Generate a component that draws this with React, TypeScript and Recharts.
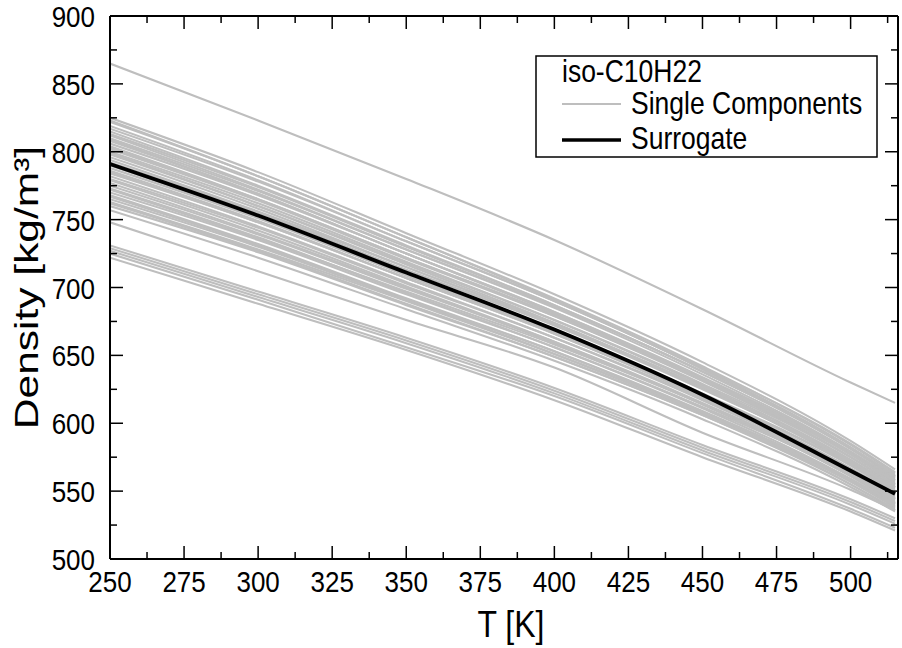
import React from 'react';
import { LineChart, Line, XAxis, YAxis, Legend, Label } from 'recharts';

const temperatures = [250, 300, 350, 400, 450, 500, 515];

const surrogate = [791, 753, 711, 669, 621, 565, 548];

const upperComponent = [865, 823, 780, 735, 684, 630, 615];

const bandComponents: number[][] = [
  [825, 785, 740, 695, 645, 587, 566],
  [823, 782, 737, 691, 640, 582, 560],
  [822, 782, 737, 692, 642, 584, 563],
  [819, 779, 734, 690, 640, 582, 561],
  [817, 778, 734, 690, 641, 585, 564],
  [815, 775, 731, 687, 638, 581, 560],
  [813, 774, 730, 687, 638, 582, 561],
  [812, 772, 728, 685, 636, 579, 558],
  [810, 771, 728, 686, 638, 582, 562],
  [809, 769, 725, 681, 632, 575, 554],
  [808, 769, 725, 682, 633, 577, 556],
  [806, 768, 725, 682, 634, 579, 559],
  [804, 765, 722, 679, 631, 575, 555],
  [803, 765, 722, 680, 633, 578, 558],
  [802, 764, 721, 679, 632, 577, 557],
  [800, 762, 719, 676, 628, 573, 553],
  [799, 760, 717, 674, 626, 570, 550],
  [798, 760, 718, 676, 629, 575, 555],
  [796, 758, 715, 673, 626, 571, 551],
  [794, 756, 715, 673, 627, 573, 553],
  [792, 755, 713, 672, 625, 572, 552],
  [790, 752, 709, 667, 620, 565, 545],
  [788, 751, 709, 668, 622, 569, 549],
  [786, 749, 707, 666, 619, 566, 546],
  [785, 748, 707, 666, 620, 567, 548],
  [784, 748, 707, 667, 621, 569, 550],
  [782, 745, 704, 663, 617, 564, 544],
  [780, 744, 703, 663, 618, 566, 547],
  [779, 742, 701, 660, 614, 561, 541],
  [777, 740, 700, 659, 614, 561, 542],
  [775, 739, 699, 660, 615, 564, 545],
  [773, 737, 696, 656, 611, 559, 540],
  [772, 736, 697, 658, 614, 563, 544],
  [770, 735, 695, 656, 612, 562, 543],
  [768, 732, 692, 653, 608, 557, 538],
  [767, 731, 691, 651, 607, 555, 536],
  [765, 730, 691, 653, 609, 559, 541],
  [763, 728, 690, 651, 608, 558, 540],
  [762, 727, 688, 649, 606, 555, 537],
  [760, 726, 687, 649, 606, 557, 539],
  [757, 722, 684, 646, 603, 553, 535],
];

const lowerSingle = [748, 712, 676, 641, 593, 551, 536];

const lowerGroup: number[][] = [
  [731, 697, 663, 626, 584, 544, 530],
  [729, 695, 661, 624, 582, 542, 528],
  [727, 693, 659, 622, 580, 540, 526],
  [725, 691, 656, 620, 578, 537, 523],
  [722, 688, 654, 617, 575, 535, 521],
];

const xTicks = [250, 262.5, 275, 287.5, 300, 312.5, 325, 337.5, 350, 362.5, 375, 387.5, 400, 412.5, 425, 437.5, 450, 462.5, 475, 487.5, 500, 512.5];
const xLabels = [250, 275, 300, 325, 350, 375, 400, 425, 450, 475, 500];
const yTicks = [500, 525, 550, 575, 600, 625, 650, 675, 700, 725, 750, 775, 800, 825, 850, 875, 900];
const yLabels = [500, 550, 600, 650, 700, 750, 800, 850, 900];

const components: number[][] = [upperComponent, ...bandComponents, lowerSingle, ...lowerGroup];

const data = temperatures.map((T, i) => {
  const row: Record<string, number> = { T, surrogate: surrogate[i] };
  components.forEach((arr, k) => {
    row['c' + k] = arr[i];
  });
  return row;
});

const FONT = 'Arial, "Liberation Sans", Helvetica, sans-serif';
const GRAY = '#bebebe';
const STRETCH = 1.15;

function StretchText(props: { x: number; y: number; size: number; anchor?: string; children: React.ReactNode }) {
  const { x, y, size, anchor = 'start', children } = props;
  return (
    <text
      transform={`translate(${x}, ${y}) scale(1, ${STRETCH})`}
      x={0}
      y={0}
      textAnchor={anchor}
      fontSize={size}
      fontFamily={FONT}
      fill="#000"
    >
      {children}
    </text>
  );
}

function BottomTick(props: any) {
  const { x, y, payload } = props;
  const v = payload.value;
  const major = xLabels.includes(v);
  return (
    <g>
      <line x1={x} x2={x} y1={y} y2={y - (major ? 13 : 7)} stroke="#000" strokeWidth={1.5} />
      {major && (
        <StretchText x={x} y={y + 33} size={26} anchor="middle">
          {v}
        </StretchText>
      )}
    </g>
  );
}

function TopTick(props: any) {
  const { x, y, payload } = props;
  const major = xLabels.includes(payload.value);
  return <line x1={x} x2={x} y1={y} y2={y + (major ? 13 : 7)} stroke="#000" strokeWidth={1.5} />;
}

function LeftTick(props: any) {
  const { x, y, payload } = props;
  const v = payload.value;
  const major = yLabels.includes(v);
  return (
    <g>
      <line x1={x} x2={x + (major ? 13 : 7)} y1={y} y2={y} stroke="#000" strokeWidth={1.5} />
      {major && (
        <StretchText x={x - 15} y={y + 11} size={26} anchor="end">
          {v}
        </StretchText>
      )}
    </g>
  );
}

function RightTick(props: any) {
  const { x, y, payload } = props;
  const major = yLabels.includes(payload.value);
  return <line x1={x} x2={x - (major ? 13 : 7)} y1={y} y2={y} stroke="#000" strokeWidth={1.5} />;
}

function XTitle(props: any) {
  const vb = props.viewBox || {};
  const cx = vb.x + vb.width / 2 + 7;
  return (
    <StretchText x={cx} y={637} size={32} anchor="middle">
      T [K]
    </StretchText>
  );
}

function YTitle(props: any) {
  const vb = props.viewBox || {};
  const cy = vb.y + vb.height / 2;
  return (
    <text
      transform={`translate(38, ${cy}) rotate(-90) scale(1.25, 1)`}
      x={0}
      y={0}
      textAnchor="middle"
      fontSize={34}
      fontFamily={FONT}
      fill="#000"
    >
      Density [kg/m³]
    </text>
  );
}

function LegendBox() {
  return (
    <svg width={344} height={104} style={{ display: 'block' }}>
      <rect x={1} y={1} width={341} height={101} fill="#fff" stroke="#000" strokeWidth={1.5} />
      <StretchText x={27} y={27} size={26.5}>
        iso-C10H22
      </StretchText>
      <line x1={27} x2={86} y1={49} y2={49} stroke={GRAY} strokeWidth={1.8} />
      <StretchText x={96} y={59} size={26.5}>
        Single Components
      </StretchText>
      <line x1={27} x2={86} y1={85} y2={85} stroke="#000" strokeWidth={3.5} />
      <StretchText x={96} y={94} size={26.5}>
        Surrogate
      </StretchText>
    </svg>
  );
}

export default function App() {
  return (
    <div style={{ position: 'absolute', left: 0, top: 0, width: 902, height: 648, background: '#fff' }}>
      <LineChart width={902} height={648} data={data} margin={{ top: 15, right: 3, bottom: 0, left: 0 }}>
        <XAxis
          dataKey="T"
          type="number"
          domain={[250, 516]}
          ticks={xTicks}
          interval={0}
          height={89}
          tickSize={0}
          tickMargin={0}
          tickLine={false}
          tick={<BottomTick />}
          axisLine={{ stroke: '#000', strokeWidth: 2 }}
          allowDataOverflow
        >
          <Label content={<XTitle />} />
        </XAxis>
        <XAxis
          xAxisId="top"
          dataKey="T"
          orientation="top"
          type="number"
          domain={[250, 516]}
          ticks={xTicks}
          interval={0}
          height={1}
          tickSize={0}
          tickMargin={0}
          tickLine={false}
          tick={<TopTick />}
          axisLine={{ stroke: '#000', strokeWidth: 2 }}
          allowDataOverflow
        />
        <YAxis
          type="number"
          domain={[500, 900]}
          ticks={yTicks}
          interval={0}
          width={110}
          tickSize={0}
          tickMargin={0}
          tickLine={false}
          tick={<LeftTick />}
          axisLine={{ stroke: '#000', strokeWidth: 2 }}
          allowDataOverflow
        >
          <Label content={<YTitle />} />
        </YAxis>
        <YAxis
          yAxisId="right"
          orientation="right"
          type="number"
          domain={[500, 900]}
          ticks={yTicks}
          interval={0}
          width={1}
          tickSize={0}
          tickMargin={0}
          tickLine={false}
          tick={<RightTick />}
          axisLine={{ stroke: '#000', strokeWidth: 2 }}
          allowDataOverflow
        />
        <Legend
          layout="vertical"
          align="center"
          verticalAlign="middle"
          content={<LegendBox />}
          wrapperStyle={{ position: 'absolute', left: 535, top: 55, width: 344, height: 104 }}
        />
        {components.map((_, k) => (
          <Line
            key={'c' + k}
            dataKey={'c' + k}
            type="monotone"
            stroke={GRAY}
            strokeWidth={2.1}
            dot={false}
            activeDot={false}
            legendType="none"
            isAnimationActive={false}
          />
        ))}
        <Line
          dataKey="surrogate"
          type="monotone"
          stroke="#000"
          strokeWidth={3.8}
          dot={false}
          activeDot={false}
          isAnimationActive={false}
        />
        <Line
          xAxisId="top"
          yAxisId="right"
          dataKey="surrogate"
          type="monotone"
          stroke="none"
          strokeWidth={0}
          dot={false}
          activeDot={false}
          legendType="none"
          isAnimationActive={false}
        />
      </LineChart>
    </div>
  );
}
